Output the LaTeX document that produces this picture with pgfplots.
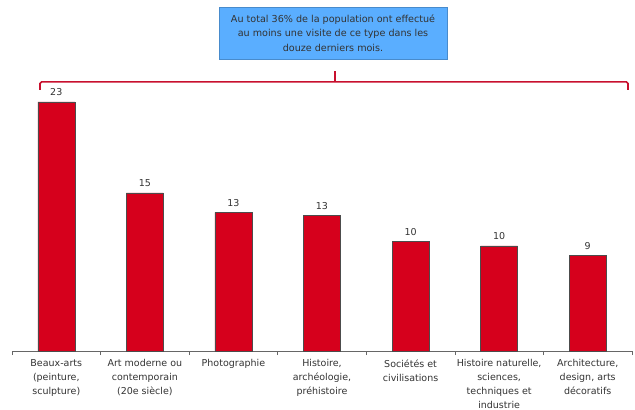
\documentclass[border=0pt]{standalone}
\usepackage{pgfplots}
\pgfplotsset{compat=1.18}
\usepackage{pgfplotstable}
\usepackage{fontspec}
\setmainfont{DejaVu Sans}
\definecolor{barred}{HTML}{D6001C}
\definecolor{braced}{HTML}{C8102E}
\definecolor{boxblue}{HTML}{5AAEFF}
\definecolor{txt}{HTML}{333333}
\pgfplotstableread{
x y lab
0 23.0 23
1 14.6 15
2 12.8 13
3 12.5 13
4 10.1 10
5 9.7 10
6 8.8 9
}\datatab
\begin{document}
\begin{tikzpicture}
\begin{axis}[
  scale only axis, width=620bp, height=325bp,
  xmin=-0.5, xmax=6.5, ymin=0, ymax=30,
  axis x line*=bottom, axis y line=none,
  axis line style={draw=gray!80!black, line width=0.6pt},
  xtick={0,...,6},
  xticklabels={{Beaux-arts\\(peinture,\\sculpture)},{Art moderne ou\\contemporain\\(20e siècle)},{Photographie},{Histoire,\\archéologie,\\préhistoire},{Sociétés et\\civilisations},{Histoire naturelle,\\sciences,\\techniques et\\industrie},{Architecture,\\design, arts\\décoratifs}},
  major tick length=0pt,
  minor xtick={-0.5,0.5,...,6.5},
  minor tick length=4bp,
  tick align=outside,
  tick style={draw=gray!80!black, line width=0.6pt},
  xticklabel style={font=\fontsize{9.5bp}{14bp}\selectfont, text=txt, align=center, anchor=north, yshift=-5bp},
  clip=false,
  ybar, bar width=0.418,
  nodes near coords,
  point meta=explicit symbolic,
  nodes near coords style={font=\fontsize{9.5bp}{11bp}\selectfont, text=txt, yshift=2.5bp},
]
\addplot[fill=barred, draw=black!70, line width=0.5pt] table[x=x, y=y, meta=lab] {\datatab};
\draw[braced, line width=1.6pt, rounded corners=1.5pt]
  (axis cs:-0.184,24.1) -- (axis cs:-0.184,24.84) -- (axis cs:6.455,24.84) -- (axis cs:6.455,24.1);
\draw[braced, line width=1.6pt] (axis cs:3.147,24.84) -- (axis cs:3.147,25.85);
\end{axis}
\node[fill=boxblue, draw=boxblue!80!black, line width=0.3pt, minimum width=228bp, minimum height=52bp, align=center, text=txt, font=\fontsize{9.6bp}{14.5bp}\selectfont] at (321bp,318bp) {Au total 36\% de la population ont effectué\\au moins une visite de ce type dans les\\douze derniers mois.};
\pgfresetboundingbox
\path (-12bp,-59bp) rectangle (623bp,351bp);
\end{tikzpicture}
\end{document}
